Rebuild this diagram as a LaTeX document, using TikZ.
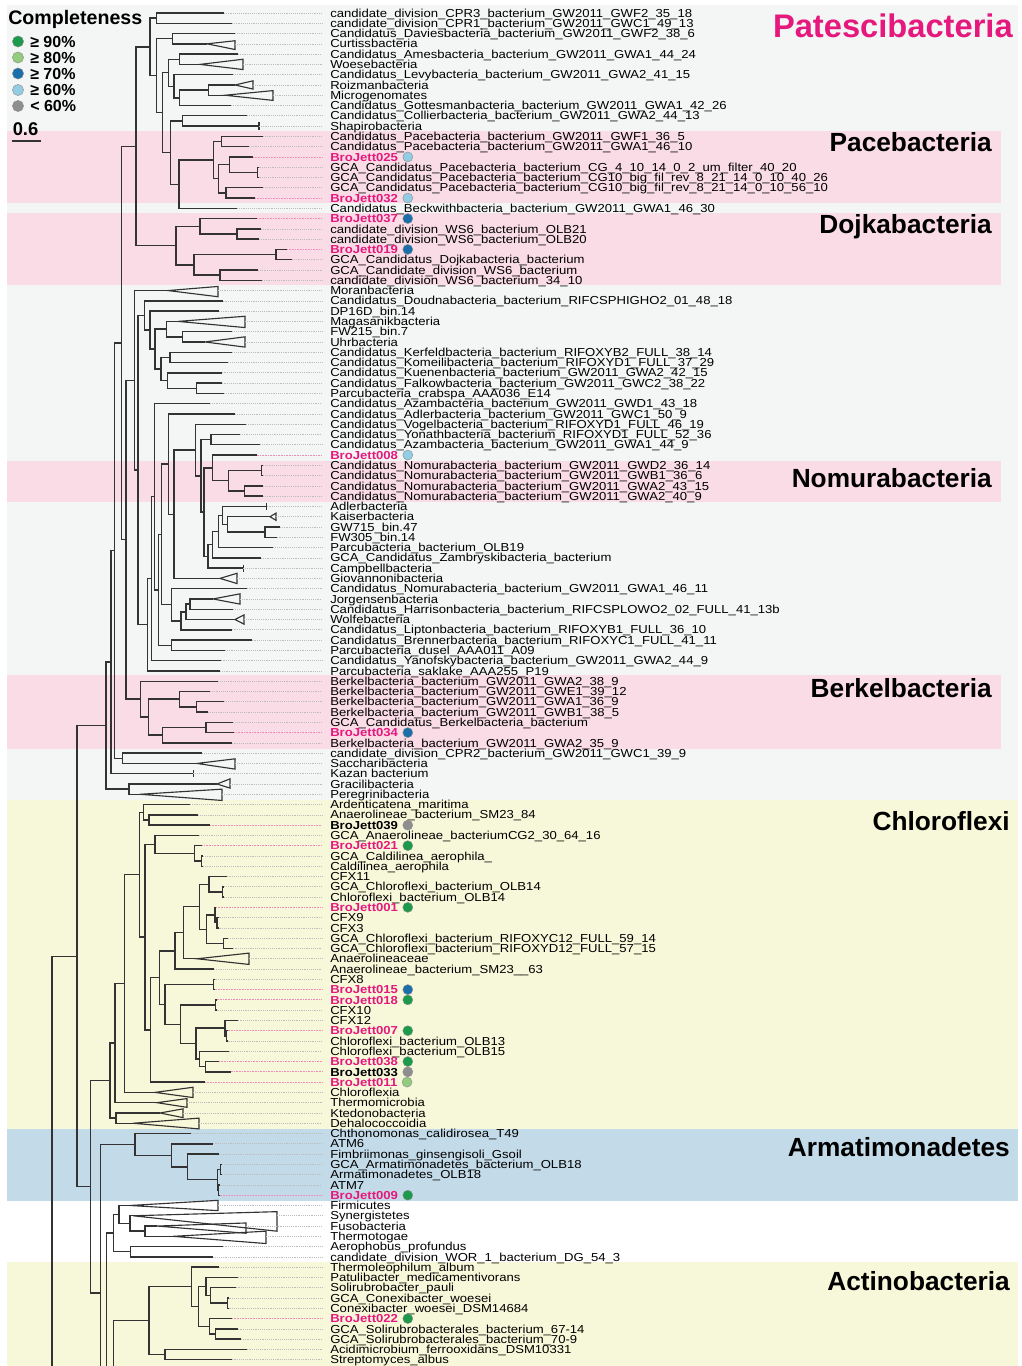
\documentclass[tikz,border=0pt]{standalone}
\usepackage{fontspec}
\setmainfont{Liberation Sans}
\newfontfamily\labfam[FakeStretch=1.13]{Liberation Sans}
\usetikzlibrary{calc}
\definecolor{cGreen}{HTML}{1B9A4B}
\definecolor{cLGreen}{HTML}{93CC7D}
\definecolor{cBlue}{HTML}{1A6FAA}
\definecolor{cLBlue}{HTML}{93CDE3}
\definecolor{cGrey}{HTML}{8E8E8E}
\definecolor{mag}{HTML}{E5197D}
\definecolor{bgGrey}{HTML}{F4F5F5}
\definecolor{bgPink}{HTML}{F9DCE6}
\definecolor{bgYel}{HTML}{F7F7D9}
\definecolor{bgBlue}{HTML}{C3DAE8}
\definecolor{brc}{HTML}{333333}
\definecolor{ldc}{HTML}{BDBDBD}
\definecolor{ldp}{HTML}{F08CB8}
\newcommand\labfont{\labfam\fontsize{8.7pt}{9pt}\selectfont}
\tikzset{
  br/.style={draw=brc,line width=1.05pt},
  lead/.style={draw=ldc,line width=0.5pt,dash pattern=on 0.7pt off 0.7pt},
  leadp/.style={draw=ldp,line width=0.6pt,dash pattern=on 0.7pt off 0.5pt},
  lab/.style={anchor=base west,inner sep=0pt,font=\labfont,yshift=-3.11pt},
  bjlab/.style={lab,font=\labfont\bfseries,text=mag},
  bklab/.style={lab,font=\labfont\bfseries,text=black},
  dot/.style={circle,minimum size=7.5pt,inner sep=0pt,draw=black!45,line width=0.3pt},
  grp/.style={anchor=base east,inner sep=0pt,font=\bfseries\fontsize{19.7pt}{21pt}\selectfont},
  legt/.style={anchor=base west,inner sep=0pt,font=\bfseries\fontsize{12pt}{14pt}\selectfont}
}
% leaf: index, tip x, label
\newcommand\leafA[3]{\coordinate (t#1) at (#2,#1);\coordinate (g#1) at (322,#1);%
  \node[lab] (L#1) at (330,#1) {#3};\draw[lead] (t#1) -- (g#1);}
% triangle leaf: index, apex x, right x, up, down, label
\newcommand\leafT[6]{\coordinate (t#1) at (#2,#1);\coordinate (r#1) at (#3,#1);\coordinate (g#1) at (322,#1);%
  \draw[br,line width=0.85pt] (t#1) -- (#3,{#1-#4}) -- (#3,{#1+#5}) -- cycle;%
  \node[lab] (L#1) at (330,#1) {#6};\draw[lead] (r#1) -- (g#1);}
% tick leaf
\newcommand\leafK[3]{\coordinate (t#1) at (#2,#1);\coordinate (g#1) at (322,#1);%
  \draw[br] (#2,{#1-0.35}) -- (#2,{#1+0.35});%
  \node[lab] (L#1) at (330,#1) {#3};\draw[lead] (t#1) -- (g#1);}
% BroJett leaf (magenta)
\newcommand\leafB[4]{\coordinate (t#1) at (#2,#1);\coordinate (g#1) at (322,#1);%
  \node[bjlab] (L#1) at (330,#1) {#3};%
  \node[dot,fill=#4] (D#1) at ($(L#1.east |- t#1)+(9.5,0)$) {};%
  \draw[leadp] (t#1) -- (g#1);}
% BroJett leaf (black)
\newcommand\leafBK[4]{\coordinate (t#1) at (#2,#1);\coordinate (g#1) at (322,#1);%
  \node[bklab] (L#1) at (330,#1) {#3};%
  \node[dot,fill=#4] (D#1) at ($(L#1.east |- t#1)+(9.5,0)$) {};%
  \draw[leadp] (t#1) -- (g#1);}
% internal node: name, x, index, child1, child2
\newcommand\inode[5]{\coordinate (#1) at (#2,#3);\draw[br] (#1) |- (#4) (#1) |- (#5);}
\begin{document}
\catcode`\_=12
\begin{tikzpicture}[x=0.75pt,y=-0.75pt]
\useasboundingbox (0,0) rectangle (1021,1366);
% backgrounds
\fill[bgGrey] (7,5) rectangle (1018,800);
\fill[bgPink] (7,131.5) rectangle (1001,202.8);
\fill[bgPink] (7,212.5) rectangle (1001,285);
\fill[bgPink] (7,460.5) rectangle (1001,501.5);
\fill[bgPink] (7,675) rectangle (1001,748.5);
\fill[bgYel] (7,800) rectangle (1018,1128.5);
\fill[bgBlue] (7,1128.5) rectangle (1018,1200.5);
\fill[bgYel] (7,1262) rectangle (1018,1366);
% group labels
\node[anchor=base east,inner sep=0pt,font=\bfseries\fontsize{24.5pt}{26pt}\selectfont,text=mag] (gPat) at (1013,37.5) {Patescibacteria};
\node[grp] (gPace) at (992,151.5) {Pacebacteria};
\node[grp] (gDojk) at (992,233) {Dojkabacteria};
\node[grp] (gNomu) at (992,487.5) {Nomurabacteria};
\node[grp] (gBerk) at (992,697.5) {Berkelbacteria};
\node[grp] (gChlo) at (1010,830.5) {Chloroflexi};
\node[grp] (gArma) at (1010,1156.5) {Armatimonadetes};
\node[grp] (gActi) at (1010,1290.5) {Actinobacteria};
% legend
\node[anchor=base west,inner sep=0pt,font=\bfseries\fontsize{14.7pt}{16pt}\selectfont] (legT) at (8,24.5) {Completeness};
\node[dot,minimum size=8.4pt,fill=cGreen] (c1) at (18,41.5) {};
\node[dot,minimum size=8.4pt,fill=cLGreen] (c2) at (18,57.5) {};
\node[dot,minimum size=8.4pt,fill=cBlue] (c3) at (18,73.5) {};
\node[dot,minimum size=8.4pt,fill=cLBlue] (c4) at (18,90) {};
\node[dot,minimum size=8.4pt,fill=cGrey] (c5) at (18,106) {};
\node[legt] (l1) at (30,47.2) {≥ 90\%};
\node[legt] (l2) at (30,63.2) {≥ 80\%};
\node[legt] (l3) at (30,79.2) {≥ 70\%};
\node[legt] (l4) at (30,95.7) {≥ 60\%};
\node[legt] (l5) at (30,111.7) {< 60\%};
\node[anchor=base west,inner sep=0pt,font=\bfseries\fontsize{13.8pt}{15pt}\selectfont] (sc) at (12.5,136) {0.6};
\draw[line width=1.5pt,brc] (12,141) -- (41,141);
% tree
\begin{scope}[x=0.75pt,y=-7.71pt,yshift=-2.04pt]
\leafA{1}{224}{candidate_division_CPR3_bacterium_GW2011_GWF2_35_18}
\leafA{2}{232}{candidate_division_CPR1_bacterium_GW2011_GWC1_49_13}
\leafA{3}{235}{Candidatus_Daviesbacteria_bacterium_GW2011_GWF2_38_6}
\leafT{4}{207}{235}{0.3}{0.55}{Curtissbacteria}
\leafA{5}{238}{Candidatus_Amesbacteria_bacterium_GW2011_GWA1_44_24}
\leafT{6}{200}{243}{0.5}{0.5}{Woesebacteria}
\leafA{7}{233}{Candidatus_Levybacteria_bacterium_GW2011_GWA2_41_15}
\leafT{8}{235}{253}{0.4}{0.4}{Roizmanbacteria}
\leafT{9}{225}{273}{0.45}{0.5}{Microgenomates}
\leafA{10}{231}{Candidatus_Gottesmanbacteria_bacterium_GW2011_GWA1_42_26}
\leafA{11}{247}{Candidatus_Collierbacteria_bacterium_GW2011_GWA2_44_13}
\leafK{12}{259}{Shapirobacteria}
\leafA{13}{263}{Candidatus_Pacebacteria_bacterium_GW2011_GWF1_36_5}
\leafA{14}{249}{Candidatus_Pacebacteria_bacterium_GW2011_GWA1_46_10}
\leafB{15}{253}{BroJett025}{cLBlue}
\leafA{16}{258.5}{GCA_Candidatus_Pacebacteria_bacterium_CG_4_10_14_0_2_um_filter_40_20}
\leafA{17}{258.5}{GCA_Candidatus_Pacebacteria_bacterium_CG10_big_fil_rev_8_21_14_0_10_40_26}
\leafA{18}{263}{GCA_Candidatus_Pacebacteria_bacterium_CG10_big_fil_rev_8_21_14_0_10_56_10}
\leafB{19}{255}{BroJett032}{cLBlue}
\leafA{20}{237}{Candidatus_Beckwithbacteria_bacterium_GW2011_GWA1_46_30}
\leafB{21}{257}{BroJett037}{cBlue}
\leafA{22}{261}{candidate_division_WS6_bacterium_OLB21}
\leafA{23}{259}{candidate_division_WS6_bacterium_OLB20}
\leafB{24}{287}{BroJett019}{cBlue}
\leafA{25}{292}{GCA_Candidatus_Dojkabacteria_bacterium}
\leafA{26}{258}{GCA_Candidate_division_WS6_bacterium}
\leafA{27}{262}{candidate_division_WS6_bacterium_34_10}
\leafT{28}{168}{218}{0.4}{0.6}{Moranbacteria}
\leafA{29}{222.7}{Candidatus_Doudnabacteria_bacterium_RIFCSPHIGHO2_01_48_18}
\leafA{30}{219}{DP16D_bin.14}
\leafT{31}{178}{245}{0.5}{0.6}{Magasanikbacteria}
\leafA{32}{232.3}{FW215_bin.7}
\leafT{33}{205}{245}{0.5}{0.5}{Uhrbacteria}
\leafA{34}{232.3}{Candidatus_Kerfeldbacteria_bacterium_RIFOXYB2_FULL_38_14}
\leafA{35}{228.3}{Candidatus_Komeilibacteria_bacterium_RIFOXYD1_FULL_37_29}
\leafA{36}{221.7}{Candidatus_Kuenenbacteria_bacterium_GW2011_GWA2_42_15}
\leafA{37}{221.7}{Candidatus_Falkowbacteria_bacterium_GW2011_GWC2_38_22}
\leafA{38}{224}{Parcubacteria_crabspa_AAA036_E14}
\leafA{39}{210}{Candidatus_Azambacteria_bacterium_GW2011_GWD1_43_18}
\leafA{40}{235}{Candidatus_Adlerbacteria_bacterium_GW2011_GWC1_50_9}
\leafA{41}{246}{Candidatus_Vogelbacteria_bacterium_RIFOXYD1_FULL_46_19}
\leafA{42}{240}{Candidatus_Yonathbacteria_bacterium_RIFOXYD1_FULL_52_36}
\leafA{43}{260}{Candidatus_Azambacteria_bacterium_GW2011_GWA1_44_9}
\leafB{44}{256.7}{BroJett008}{cLBlue}
\leafA{45}{263}{Candidatus_Nomurabacteria_bacterium_GW2011_GWD2_36_14}
\leafA{46}{263}{Candidatus_Nomurabacteria_bacterium_GW2011_GWB1_36_6}
\leafA{47}{263}{Candidatus_Nomurabacteria_bacterium_GW2011_GWA2_43_15}
\leafA{48}{263}{Candidatus_Nomurabacteria_bacterium_GW2011_GWA2_40_9}
\leafK{49}{266.7}{Adlerbacteria}
\leafT{50}{270}{276}{0.35}{0.35}{Kaiserbacteria}
\leafA{51}{280}{GW715_bin.47}
\leafA{52}{276.7}{FW305_bin.14}
\leafA{53}{273.3}{Parcubacteria_bacterium_OLB19}
\leafA{54}{261}{GCA_Candidatus_Zambryskibacteria_bacterium}
\leafK{55}{243.3}{Campbellbacteria}
\leafT{56}{220}{237}{0.5}{0.5}{Giovannonibacteria}
\leafA{57}{246.7}{Candidatus_Nomurabacteria_bacterium_GW2011_GWA1_46_11}
\leafT{58}{213}{240}{0.5}{0.5}{Jorgensenbacteria}
\leafA{59}{233.3}{Candidatus_Harrisonbacteria_bacterium_RIFCSPLOWO2_02_FULL_41_13b}
\leafT{60}{235}{244}{0.45}{0.45}{Wolfebacteria}
\leafA{61}{231.7}{Candidatus_Liptonbacteria_bacterium_RIFOXYB1_FULL_36_10}
\leafA{62}{251.7}{Candidatus_Brennerbacteria_bacterium_RIFOXYC1_FULL_41_11}
\leafA{63}{225}{Parcubacteria_dusel_AAA011_A09}
\leafA{64}{220.7}{Candidatus_Yanofskybacteria_bacterium_GW2011_GWA2_44_9}
\leafA{65}{220}{Parcubacteria_saklake_AAA255_P19}
\leafA{66}{218.3}{Berkelbacteria_bacterium_GW2011_GWA2_38_9}
\leafA{67}{210}{Berkelbacteria_bacterium_GW2011_GWE1_39_12}
\leafA{68}{224.3}{Berkelbacteria_bacterium_GW2011_GWA1_36_9}
\leafA{69}{208.3}{Berkelbacteria_bacterium_GW2011_GWB1_38_5}
\leafA{70}{233.3}{GCA_Candidatus_Berkelbacteria_bacterium}
\leafB{71}{234.3}{BroJett034}{cBlue}
\leafA{72}{231.7}{Berkelbacteria_bacterium_GW2011_GWA2_35_9}
\leafA{73}{202.3}{candidate_division_CPR2_bacterium_GW2011_GWC1_39_9}
\leafT{74}{197}{235}{0.45}{0.55}{Saccharibacteria}
\leafK{75}{193.3}{Kazan bacterium}
\leafT{76}{217}{230}{0.5}{0.4}{Gracilibacteria}
\leafT{77}{140}{222}{0.5}{0.6}{Peregrinibacteria}
\leafA{78}{190}{Ardenticatena_maritima}
\leafA{79}{198.3}{Anaerolineae_bacterium_SM23_84}
\leafBK{80}{210}{BroJett039}{cGrey}
\leafA{81}{199.3}{GCA_Anaerolineae_bacteriumCG2_30_64_16}
\leafB{82}{202.3}{BroJett021}{cGreen}
\leafA{83}{203}{GCA_Caldilinea_aerophila_}
\leafA{84}{203}{Caldilinea_aerophila}
\leafA{85}{226.7}{CFX11}
\leafA{86}{224}{GCA_Chloroflexi_bacterium_OLB14}
\leafA{87}{224}{Chloroflexi_bacterium_OLB14}
\leafB{88}{216}{BroJett001}{cGreen}
\leafA{89}{218.5}{CFX9}
\leafA{90}{218.5}{CFX3}
\leafA{91}{228.3}{GCA_Chloroflexi_bacterium_RIFOXYC12_FULL_59_14}
\leafA{92}{232.7}{GCA_Chloroflexi_bacterium_RIFOXYD12_FULL_57_15}
\leafT{93}{197}{249}{0.55}{0.55}{Anaerolineaceae}
\leafA{94}{214}{Anaerolineae_bacterium_SM23__63}
\leafA{95}{214.5}{CFX8}
\leafB{96}{214.5}{BroJett015}{cBlue}
\leafB{97}{216.5}{BroJett018}{cGreen}
\leafA{98}{216.5}{CFX10}
\leafA{99}{237.7}{CFX12}
\leafB{100}{227.5}{BroJett007}{cGreen}
\leafA{101}{227.5}{Chloroflexi_bacterium_OLB13}
\leafA{102}{228.7}{Chloroflexi_bacterium_OLB15}
\leafB{103}{219}{BroJett038}{cGreen}
\leafBK{104}{230.7}{BroJett033}{cGrey}
\leafB{105}{205}{BroJett011}{cLGreen}
\leafT{106}{155}{193}{0.5}{0.5}{Chloroflexia}
\leafT{107}{157}{187}{0.4}{0.45}{Thermomicrobia}
\leafT{108}{160}{183}{0.4}{0.45}{Ktedonobacteria}
\leafT{109}{133}{199}{0.5}{0.55}{Dehalococcoidia}
\leafA{110}{191}{Chthonomonas_calidirosea_T49}
\leafA{111}{212.7}{ATM6}
\leafA{112}{219}{Fimbriimonas_ginsengisoli_Gsoil}
\leafA{113}{222}{GCA_Armatimonadetes_bacterium_OLB18}
\leafA{114}{222}{Armatimonadetes_OLB18}
\leafA{115}{219.5}{ATM7}
\leafB{116}{219.5}{BroJett009}{cGreen}
\leafT{117}{130}{218}{0.5}{0.5}{Firmicutes}
\leafT{118}{133}{277}{0.4}{1.5}{Synergistetes}
\leafT{119}{157}{246}{0.3}{0.7}{Fusobacteria}
\leafT{120}{173}{266}{0.5}{0.7}{Thermotogae}
\leafA{121}{222.7}{Aerophobus_profundus}
\leafA{122}{213.3}{candidate_division_WOR_1_bacterium_DG_54_3}
\leafA{123}{219}{Thermoleophilum_album}
\leafA{124}{237.7}{Patulibacter_medicamentivorans}
\leafA{125}{235.7}{Solirubrobacter_pauli}
\leafA{126}{228.5}{GCA_Conexibacter_woesei}
\leafA{127}{228.5}{Conexibacter_woesei_DSM14684}
\leafB{128}{232}{BroJett022}{cGreen}
\leafA{129}{237.7}{GCA_Solirubrobacterales_bacterium_67-14}
\leafA{130}{241}{GCA_Solirubrobacterales_bacterium_70-9}
\leafA{131}{246.7}{Acidimicrobium_ferrooxidans_DSM10331}
\leafA{132}{231.7}{Streptomyces_albus}
% internal nodes: Microgenomates / Pacebacteria
\inode{n12}{156.7}{1.5}{t1}{t2}
\inode{n34}{172.7}{3.5}{t3}{t4}
\inode{n56}{179.3}{5.5}{t5}{t6}
\inode{n89}{208.3}{8.5}{t8}{t9}
\inode{n810}{179.3}{9.25}{n89}{t10}
\inode{n710}{174}{8.125}{t7}{n810}
\inode{n510}{168.3}{6.8125}{n56}{n710}
\inode{n1112}{182.7}{11.5}{t11}{t12}
\inode{n1617}{257.3}{16.5}{t16}{t17}
\inode{n1517}{229.3}{15.75}{t15}{n1617}
\inode{n1819}{226}{18.5}{t18}{t19}
\inode{n1519}{218.3}{17.125}{n1517}{n1819}
\inode{n1314}{221.7}{13.5}{t13}{t14}
\inode{n1319}{213.3}{15.3125}{n1314}{n1519}
\inode{n1320}{179}{17.65625}{n1319}{t20}
\inode{n1120}{170.7}{14.578}{n1112}{n1320}
\inode{n520}{162.7}{10.695}{n510}{n1120}
\inode{n320}{156.7}{7.098}{n34}{n520}
\inode{n120}{150}{4.299}{n12}{n320}
% Dojkabacteria
\inode{n2223}{237}{22.5}{t22}{t23}
\inode{n2123}{200}{21.75}{t21}{n2223}
\inode{n2425}{276}{24.5}{t24}{t25}
\inode{n2627}{220}{26.5}{t26}{t27}
\inode{n2427}{194}{25.5}{n2425}{n2627}
\inode{n2127}{176}{23.625}{n2123}{n2427}
\inode{nP}{136}{13.96}{n120}{n2127}
% Parcubacteria
\inode{n3738}{196.7}{37.5}{t37}{t38}
\inode{n3638}{167.3}{36.75}{t36}{n3738}
\inode{n3435}{170}{34.5}{t34}{t35}
\inode{n3438}{161}{35.625}{n3435}{n3638}
\inode{n3233}{182.3}{32.5}{t32}{t33}
\inode{n3133}{166.7}{31.75}{t31}{n3233}
\inode{n3138}{155}{33.69}{n3133}{n3438}
\inode{n3038}{150}{31.84}{t30}{n3138}
\inode{n2938}{144.3}{30.42}{t29}{n3038}
\inode{n4546}{261.7}{45.5}{t45}{t46}
\inode{n4748}{244.3}{47.5}{t47}{t48}
\inode{n4548}{228.3}{46.5}{n4546}{n4748}
\inode{n4448}{212.7}{45.25}{t44}{n4548}
\inode{n5152}{265}{51.5}{t51}{t52}
\inode{n5052}{227.7}{50.75}{t50}{n5152}
\inode{n4952}{222.7}{49.875}{t49}{n5052}
\inode{n4953}{218.3}{51.4375}{n4952}{t53}
\inode{n4954}{212.7}{52.72}{n4953}{t54}
\inode{n4955}{208}{53.86}{n4954}{t55}
\inode{n4455}{204}{49.555}{n4448}{n4955}
\inode{n4243}{211}{42.5}{t42}{t43}
\inode{nW}{201}{46.03}{n4243}{n4455}
\inode{n41W}{195.7}{43.51}{t41}{nW}
\inode{n4156}{174}{49.76}{n41W}{t56}
\inode{n4056}{168.3}{44.88}{t40}{n4156}
\inode{n5859}{190}{58.5}{t58}{t59}
\inode{n5860}{186}{59.25}{n5859}{t60}
\inode{n5861}{181}{60.125}{n5860}{t61}
\inode{n5761}{171.7}{58.5625}{t57}{n5861}
\inode{n4061}{161.7}{51.72}{n4056}{n5761}
\inode{n6263}{171.7}{62.5}{t62}{t63}
\inode{n4063}{158.3}{57.11}{n4061}{n6263}
\inode{n3963}{154.3}{48.05}{t39}{n4063}
\inode{n3964}{151.7}{56.03}{n3963}{t64}
\inode{n3965}{147.7}{60.51}{n3964}{t65}
\inode{n2965}{138}{45.47}{n2938}{n3965}
\inode{n2865}{134.3}{36.73}{t28}{n2965}
% Berkelbacteria
\inode{n6869}{196.7}{68.5}{t68}{t69}
\inode{n6769}{179.3}{67.75}{t67}{n6869}
\inode{n7071}{206}{70.5}{t70}{t71}
\inode{n7072}{162.3}{71.25}{n7071}{t72}
\inode{n6772}{148.3}{69.5}{n6769}{n7072}
\inode{n6672}{140.7}{67.75}{t66}{n6772}
\inode{nK}{126}{52.24}{n2865}{n6672}
\inode{nQ}{121.7}{33.1}{nP}{nK}
\inode{n7374}{122.3}{73.5}{t73}{t74}
\inode{n274}{114.3}{53.3}{nQ}{n7374}
\inode{n275}{111}{64.15}{n274}{t75}
\inode{n7677}{129}{76.5}{t76}{t77}
\inode{n277}{106}{70.33}{n275}{n7677}
% Chloroflexi
\inode{n7980}{149}{79.5}{t79}{t80}
\inode{n7880}{143.3}{78.75}{t78}{n7980}
\inode{n8384}{201.7}{83.5}{t83}{t84}
\inode{n8284}{194.3}{82.75}{t82}{n8384}
\inode{n8184}{155}{81.875}{t81}{n8284}
\inode{n8687}{222.7}{86.5}{t86}{t87}
\inode{n8587}{209}{85.75}{t85}{n8687}
\inode{n8990}{217}{89.5}{t89}{t90}
\inode{n8890}{215}{88.75}{t88}{n8990}
\inode{n9192}{223.3}{91.5}{t91}{t92}
\inode{n8892}{206.7}{90.125}{n8890}{n9192}
\inode{n8592}{199.3}{87.94}{n8587}{n8892}
\inode{n8593}{183.3}{90.47}{n8592}{t93}
\inode{n8594}{175}{92.23}{n8593}{t94}
\inode{n9596}{213.3}{95.5}{t95}{t96}
\inode{n9798}{215.7}{97.5}{t97}{t98}
\inode{n100101}{226.7}{100.5}{t100}{t101}
\inode{n99101}{225}{99.75}{t99}{n100101}
\inode{n103104}{205.7}{103.5}{t103}{t104}
\inode{n102104}{199.3}{102.75}{t102}{n103104}
\inode{n99104}{196}{101.25}{n99101}{n102104}
\inode{n97104}{180.7}{99.375}{n9798}{n99104}
\inode{n95104}{165}{97.44}{n9596}{n97104}
\inode{n85104}{159.3}{94.84}{n8594}{n95104}
\inode{n85105}{150.7}{99.92}{n85104}{t105}
\inode{nCa}{145}{90.9}{n8184}{n85105}
\inode{n78105}{139.3}{84.82}{n7880}{nCa}
\inode{n78106}{124.3}{95.4}{n78105}{t106}
\inode{n78107}{115}{101.2}{n78106}{t107}
\inode{n108109}{116}{108.5}{t108}{t109}
\inode{nCHL}{110}{104.85}{n78107}{n108109}
% Armatimonadetes
\inode{n113114}{220.7}{113.5}{t113}{t114}
\inode{n115116}{218.7}{115.5}{t115}{t116}
\inode{n113116}{217.7}{114.5}{n113114}{n115116}
\inode{n112116}{187.7}{113.25}{t112}{n113116}
\inode{n111116}{171.7}{112.125}{t111}{n112116}
\inode{nARM}{135}{111.06}{t110}{n111116}
% Firmicutes group
\inode{n119120}{145}{119.5}{t119}{t120}
\inode{n118120}{130}{118.75}{t118}{n119120}
\inode{n117120}{119}{117.875}{t117}{n118120}
\inode{n121122}{130.7}{121.5}{t121}{t122}
\inode{nFIRM}{113.3}{119.69}{n117120}{n121122}
% Actinobacteria
\inode{n126127}{227.7}{126.5}{t126}{t127}
\inode{n125127}{210.7}{125.75}{t125}{n126127}
\inode{n124127}{206}{124.875}{t124}{n125127}
\inode{n129130}{215.7}{129.5}{t129}{t130}
\inode{n128130}{209.3}{128.75}{t128}{n129130}
\inode{n124130}{198.3}{126.81}{n124127}{n128130}
\inode{n123130}{191.7}{124.9}{t123}{n124130}
\inode{n131132}{165}{131.5}{t131}{t132}
\inode{nACT}{149}{128.2}{n123130}{n131132}
% backbone
\coordinate (bB) at (100.7,134);
\coordinate (bR) at (52,134);
\coordinate (bF) at (106.7,134);
\coordinate (bA) at (113.3,134);
\inode{nB}{100.7}{125.5}{nARM}{bB}
\inode{nG9}{90.7}{115.17}{nCHL}{nB}
\inode{nG}{77}{92.75}{n277}{nG9}
\draw[br] (bR) |- (nG);
\draw[br] (bF) |- (nFIRM);
\draw[br] (bA) |- (nACT);
\end{scope}
\end{tikzpicture}
\end{document}
